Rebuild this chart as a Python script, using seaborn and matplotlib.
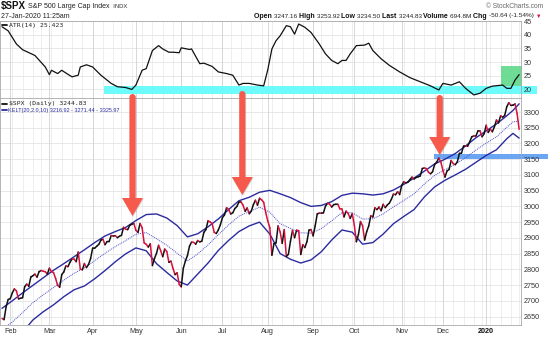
import numpy as np
import pandas as pd
import matplotlib
matplotlib.use("Agg")
import matplotlib.pyplot as plt
import seaborn as sns
from matplotlib.collections import LineCollection
from matplotlib.patches import Rectangle, Polygon
from matplotlib.lines import Line2D

# ---------------- data ----------------
holidays = ["2019-02-18", "2019-04-19", "2019-05-27", "2019-07-04", "2019-09-02",
            "2019-11-28", "2019-12-25", "2020-01-01", "2020-01-20"]

close_jan19 = [2643.85, 2640.00, 2681.05, 2704.10]
close_feb19 = [2706.53, 2724.87, 2737.70, 2731.61, 2706.05, 2707.88, 2709.80, 2744.73, 2753.03,
               2745.73, 2775.60, 2779.76, 2784.70, 2774.88, 2792.67, 2796.11, 2793.90, 2792.38, 2784.49]
close_mar19 = [2803.69, 2792.81, 2789.65, 2771.45, 2748.93, 2743.07, 2783.30, 2791.52, 2810.92,
               2808.48, 2822.48, 2832.94, 2832.57, 2824.23, 2854.88, 2800.71, 2798.36, 2818.46,
               2805.37, 2815.44, 2834.40]
close_apr19 = [2867.19, 2867.24, 2873.40, 2879.39, 2892.74, 2895.77, 2878.20, 2888.21, 2888.32,
               2907.41, 2905.58, 2907.06, 2900.45, 2905.03, 2907.97, 2933.68, 2927.25, 2926.17,
               2939.88, 2943.03, 2945.83]
close_may19 = [2923.73, 2917.52, 2945.64, 2932.47, 2884.05, 2879.42, 2870.72, 2881.40, 2811.87,
               2834.41, 2850.96, 2876.32, 2859.53, 2840.23, 2864.36, 2856.27, 2822.24, 2826.06,
               2802.39, 2783.02, 2788.86, 2752.06]
close_jun19 = [2744.45, 2803.27, 2826.15, 2843.49, 2873.34, 2886.73, 2885.72, 2879.84, 2891.64,
               2886.98, 2889.67, 2917.75, 2926.46, 2954.18, 2950.46, 2945.35, 2917.38, 2913.78,
               2924.92, 2941.76]
close_jul19 = [2964.33, 2973.01, 2995.82, 2990.41, 2975.95, 2979.63, 2993.07, 2999.91, 3013.77,
               3014.30, 3004.04, 2984.42, 2995.11, 2976.61, 2985.03, 3005.47, 3019.56, 3003.67,
               3025.86, 3020.97, 3013.18, 2980.38]
close_aug19 = [2953.56, 2932.05, 2844.74, 2881.77, 2883.98, 2938.09, 2918.65, 2882.70, 2926.32,
               2840.60, 2847.60, 2888.68, 2923.65, 2900.51, 2924.43, 2922.95, 2847.11, 2878.38,
               2869.16, 2887.94, 2924.58, 2926.46]
close_sep19 = [2906.27, 2937.78, 2976.00, 2978.71, 2978.43, 2979.39, 3000.93, 3009.57, 3007.39,
               2997.96, 3005.70, 3006.73, 3006.79, 2992.07, 2991.78, 2966.60, 2984.87, 2977.62,
               2961.79, 2976.74]
close_oct19 = [2940.25, 2887.61, 2910.63, 2952.01, 2938.79, 2893.06, 2919.40, 2938.13, 2970.27,
               2966.15, 2995.68, 2989.69, 2997.95, 2986.20, 3006.72, 2995.99, 3004.52, 3010.29,
               3022.55, 3039.42, 3036.89, 3046.77, 3037.56]
close_nov19 = [3066.91, 3078.27, 3074.62, 3076.78, 3085.18, 3093.08, 3087.01, 3091.84, 3094.04,
               3096.63, 3120.46, 3122.03, 3120.18, 3108.46, 3103.54, 3110.29, 3133.64, 3140.52,
               3153.63, 3140.98]
close_dec19 = [3113.87, 3093.20, 3112.76, 3117.43, 3145.91, 3135.96, 3132.52, 3141.63, 3168.57,
               3168.80, 3191.45, 3192.52, 3191.14, 3205.37, 3221.22, 3224.01, 3223.38, 3239.91,
               3240.02, 3221.29, 3230.78]
close_jan20 = [3257.85, 3234.85, 3246.28, 3237.18, 3253.05, 3274.70, 3265.35, 3288.13, 3283.15,
               3289.29, 3316.81, 3329.62, 3320.79, 3321.75, 3325.54, 3295.47, 3244.83]

# Keltner channel (20, 2.0, 10), by trading-day number
kelt_day = [0, 5, 10, 15, 20, 25, 30, 35, 40, 45, 50, 55, 60, 65, 70, 75, 80, 85, 90, 95, 100,
            105, 110, 115, 120, 125, 130, 135, 140, 145, 150, 155, 160, 165, 170, 175, 180, 185,
            190, 195, 200, 205, 210, 215, 220, 225, 230, 235, 240, 245, 248, 251]
kelt_upper = [2676, 2700, 2725, 2749, 2773, 2797, 2818, 2840, 2862, 2885, 2906, 2920, 2933, 2955,
              2974, 2976, 2963, 2939, 2903, 2913, 2935, 2960, 2990, 3018, 3029, 3045, 3051, 3040,
              3028, 3012, 3000, 3003, 3015, 3035, 3042, 3040, 3036, 3040, 3052, 3070, 3090, 3112,
              3135, 3150, 3168, 3192, 3218, 3240, 3262, 3288, 3305, 3326]
kelt_lower = [2540, 2565, 2600, 2639, 2665, 2687, 2713, 2735, 2747, 2770, 2796, 2824, 2849, 2868,
              2859, 2818, 2790, 2763, 2750, 2785, 2820, 2860, 2892, 2920, 2938, 2950, 2912, 2850,
              2832, 2820, 2830, 2856, 2893, 2925, 2918, 2880, 2885, 2912, 2945, 2968, 2990, 3030,
              3062, 3083, 3100, 3118, 3140, 3162, 3180, 3215, 3232, 3217]

# ATR(14), by trading-day number
atr_day = [0, 3, 7, 10, 16, 21, 23, 24, 27, 29, 31, 34, 37, 38, 41, 44, 48, 53, 56, 60, 63, 65,
           68, 70, 73, 76, 78, 81, 83, 86, 87, 91, 92, 96, 98, 102, 105, 109, 112, 115, 117, 120,
           124, 127, 129, 131, 133, 135, 138, 140, 142, 144, 147, 150, 154, 157, 160, 163, 165,
           167, 169, 172, 176, 178, 180, 184, 188, 193, 198, 203, 208, 212, 214, 218, 222, 225,
           229, 232, 235, 238, 243, 245, 247, 249, 251]
atr_val = [42.9, 41.4, 36.6, 34.5, 32.4, 28.2, 25.4, 27.0, 25.8, 27.0, 26.0, 24.6, 25.2, 28.2,
           29.0, 28.2, 25.2, 22.2, 21.0, 20.7, 20.0, 21.6, 27.0, 27.6, 34.2, 36.0, 34.8, 33.6,
           33.6, 33.4, 35.2, 34.6, 34.8, 29.4, 29.6, 28.4, 26.4, 25.8, 25.2, 21.6, 22.2, 22.2,
           21.6, 21.3, 27.2, 34.8, 37.8, 39.6, 43.3, 42.9, 40.2, 43.9, 42.7, 40.8, 36.6, 33.0,
           30.6, 29.4, 30.6, 30.6, 33.0, 36.0, 36.2, 36.9, 34.2, 31.2, 28.8, 26.4, 24.3, 22.8,
           21.3, 19.8, 22.2, 21.6, 22.8, 20.4, 18.0, 18.6, 20.4, 21.2, 21.6, 20.4, 20.4, 23.4, 25.42]

atr_ticks = [20, 25, 30, 35, 40, 45]
price_ticks = [2650, 2700, 2750, 2800, 2850, 2900, 2950, 3000, 3050, 3100, 3150, 3200, 3250, 3300]
month_labels = ["Feb", "Mar", "Apr", "May", "Jun", "Jul", "Aug", "Sep", "Oct", "Nov", "Dec", "2020"]

# ---------------- build ----------------
close = np.array(close_jan19 + close_feb19 + close_mar19 + close_apr19 + close_may19 + close_jun19
                 + close_jul19 + close_aug19 + close_sep19 + close_oct19 + close_nov19 + close_dec19
                 + close_jan20)
dates = pd.bdate_range("2019-01-28", "2020-01-27")
dates = dates[~dates.isin(pd.to_datetime(holidays))]
n = min(len(dates), len(close))
dates = dates[:n]
close = close[:n]
day = np.arange(n)

per = pd.Series(dates).dt.to_period("M")
month_start = [i for i in range(1, n) if per[i] != per[i - 1]]
wk = pd.Series(dates).dt.isocalendar().week.values
week_start = [i for i in range(1, n) if wk[i] != wk[i - 1]]

kelt = pd.DataFrame({"day": kelt_day, "upper": kelt_upper, "lower": kelt_lower})
kelt["middle"] = (kelt["upper"] + kelt["lower"]) / 2
atr = pd.DataFrame({"day": atr_day, "atr": atr_val})

sns.set_theme(style="white")
plt.rcParams["font.family"] = ["Liberation Sans", "DejaVu Sans"]

W, H = 548, 340
fig = plt.figure(figsize=(W / 100, H / 100), dpi=100)
fig.patch.set_facecolor("white")


def fx(x):
    return x / W


def fy(y):
    return 1 - y / H


PLOT_R = 521
ax_atr = fig.add_axes([0, fy(98), fx(PLOT_R), (98 - 21) / H])
ax_px = fig.add_axes([0, fy(325), fx(PLOT_R), (325 - 98) / H])

xlim = (-0.97, 251.9)
navy = "#2b2ba0"

for ax in (ax_atr, ax_px):
    ax.set_facecolor("white")
    ax.grid(False)
    ax.set_axisbelow(False)
    for i in week_start:
        ax.axvline(i, color="#ebebeb", lw=0.6, zorder=0.3)
    for i in month_start:
        ax.axvline(i, color="#d2d2d2", lw=0.6, zorder=0.35)
    for s in ax.spines.values():
        s.set_color("#a8a8a8")
        s.set_linewidth(0.6)

# ATR panel
sns.lineplot(data=atr, x="day", y="atr", ax=ax_atr, color="#111111", lw=0.9, zorder=3)
ax_atr.set_xlim(*xlim)
ax_atr.set_ylim(16.87, 44.57)
for t in atr_ticks:
    ax_atr.axhline(t, color="#e4e4e4", lw=0.6, zorder=0.3)
ax_atr.yaxis.tick_right()
ax_atr.set_yticks(atr_ticks)
ax_atr.set_yticklabels([str(t) for t in atr_ticks])
ax_atr.set_xticks([])
ax_atr.tick_params(axis="y", length=0, pad=2, labelsize=5.2, labelcolor="#333333")
ax_atr.set_xlabel("")
ax_atr.set_ylabel("")

# price panel
sns.lineplot(data=kelt, x="day", y="upper", ax=ax_px, color=navy, lw=1.0, zorder=2)
sns.lineplot(data=kelt, x="day", y="lower", ax=ax_px, color=navy, lw=1.0, zorder=2)
sns.lineplot(data=kelt, x="day", y="middle", ax=ax_px, color="#4a4ad0", lw=0.7,
             linestyle=(0, (1, 1)), zorder=2)
segs = [[(day[i], close[i]), (day[i + 1], close[i + 1])] for i in range(n - 1)]
cols = ["#111111" if close[i + 1] >= close[i] else "#d8103c" for i in range(n - 1)]
ax_px.add_collection(LineCollection(segs, colors=cols, linewidths=1.1, zorder=3,
                                    capstyle="round", joinstyle="round"))
ax_px.set_xlim(*xlim)
ax_px.set_ylim(2623, 3344.5)
for t in price_ticks:
    ax_px.axhline(t, color="#e4e4e4", lw=0.6, zorder=0.3)
ax_px.yaxis.tick_right()
ax_px.set_yticks(price_ticks)
ax_px.set_yticklabels([str(t) for t in price_ticks])
ax_px.set_xticks(month_start[:len(month_labels)])
ax_px.set_xticklabels(month_labels[:len(month_start)])
ax_px.tick_params(axis="y", length=0, pad=2, labelsize=5.2, labelcolor="#333333")
ax_px.tick_params(axis="x", length=0, pad=2.5, labelsize=5.2, labelcolor="#333333")
for lab in ax_px.get_xticklabels():
    if lab.get_text() == "2020":
        lab.set_fontweight("bold")
        lab.set_color("#111111")
ax_px.set_xlabel("")
ax_px.set_ylabel("")

# highlight boxes
ax_atr.add_artist(Rectangle((fx(104), fy(94)), (537 - 104) / W, (94 - 85.7) / H,
                            transform=fig.transFigure, facecolor="#66fbfb", edgecolor="none",
                            alpha=0.95, zorder=1.5, clip_on=False))
ax_atr.add_artist(Rectangle((fx(500.7), fy(85.7)), (522.3 - 500.7) / W, (85.7 - 66) / H,
                            transform=fig.transFigure, facecolor="#5fd98a", edgecolor="none",
                            alpha=0.9, zorder=1.5, clip_on=False))
ax_px.add_artist(Rectangle((fx(434), fy(159.3)), (548 - 434) / W, (159.3 - 154.3) / H,
                           transform=fig.transFigure, facecolor="#5b9cf2", edgecolor="none",
                           alpha=0.9, zorder=1.5, clip_on=False))


# arrows (pixel geometry)
def arrow(cx, y0, yb, yt, sw=3.1, hw=10.5, color="#f65a4c"):
    pts = []
    for a in np.linspace(np.pi, 0, 9):
        pts.append((cx + sw * np.cos(a), y0 - sw * np.sin(a) + sw))
    pts += [(cx + sw, yb), (cx + hw, yb), (cx, yt), (cx - hw, yb), (cx - sw, yb)]
    sh = [(fx(x + 0.8), fy(y + 0.8)) for x, y in pts]
    fig.add_artist(Polygon(sh, closed=True, transform=fig.transFigure, facecolor="#999999",
                           edgecolor="none", alpha=0.35, zorder=9))
    fig.add_artist(Polygon([(fx(x), fy(y)) for x, y in pts], closed=True,
                           transform=fig.transFigure, facecolor=color, edgecolor="none",
                           zorder=10))


arrow(132.5, 94, 198, 216)
arrow(242.3, 91, 177, 195)
arrow(439.7, 95, 137, 155)

# legends inside panels
fig.add_artist(Line2D([fx(2), fx(7)], [fy(25), fy(25)], color="#111111", lw=1.3))
fig.text(fx(9), fy(25), "ATR(14) 25.423", fontsize=4.6, va="center", color="#222222",
         family=["DejaVu Sans Mono"])
fig.add_artist(Line2D([fx(2), fx(7)], [fy(104), fy(104)], color="#111111", lw=1.3, zorder=5))
fig.text(fx(9), fy(104), "$SPX (Daily) 3244.83", fontsize=4.6, va="center", color="#222222",
         family=["DejaVu Sans Mono"], zorder=5)
fig.add_artist(Line2D([fx(2), fx(7)], [fy(110.5), fy(110.5)], color=navy, lw=1.3, zorder=5))
fig.text(fx(8), fy(110.5), "KELT(20,2.0,10) 3216.92 - 3271.44 - 3325.97", fontsize=4.0,
         va="center", color=navy, zorder=5)

# header
renderer = fig.canvas.get_renderer()


def chain(x, y, pieces, right=None):
    arts = []
    cur = x
    for txt, size, weight, color in pieces:
        t = fig.text(fx(cur), fy(y), txt, fontsize=size, fontweight=weight, color=color,
                     va="center", ha="left", family=["Liberation Sans", "DejaVu Sans"])
        bb = t.get_window_extent(renderer)
        cur = bb.x1 + 0.0
        arts.append(t)
    if right is not None:
        shift = right - cur
        for t in arts:
            px, py = t.get_position()
            t.set_position((px + shift / W, py))


chain(1, 6.5, [("$SPX", 7.0, "bold", "#111111"), (" S&P 500 Large Cap Index", 5.0, "normal", "#222222"),
               ("  INDX", 4.2, "normal", "#333333")])
chain(1, 16, [("27-Jan-2020 11:25am", 5.0, "normal", "#222222")])
fig.text(fx(543), fy(6.5), "\u00a9 StockCharts.com", fontsize=4.8, color="#666666", ha="right",
         va="center")
chain(0, 16, [("Open ", 5.0, "bold", "#111111"), ("3247.16 ", 4.6, "normal", "#222222"),
              ("High ", 5.0, "bold", "#111111"), ("3253.92 ", 4.6, "normal", "#222222"),
              ("Low ", 5.0, "bold", "#111111"), ("3234.50 ", 4.6, "normal", "#222222"),
              ("Last ", 5.0, "bold", "#111111"), ("3244.83 ", 4.6, "normal", "#222222"),
              ("Volume ", 5.0, "bold", "#111111"), ("694.8M ", 4.6, "normal", "#222222"),
              ("Chg ", 5.0, "bold", "#111111"), ("-50.64 (-1.54%) ", 4.6, "normal", "#222222"),
              ("\u25bc", 4.0, "normal", "#d8103c")], right=541)

fig.savefig("out.png", dpi=100)
